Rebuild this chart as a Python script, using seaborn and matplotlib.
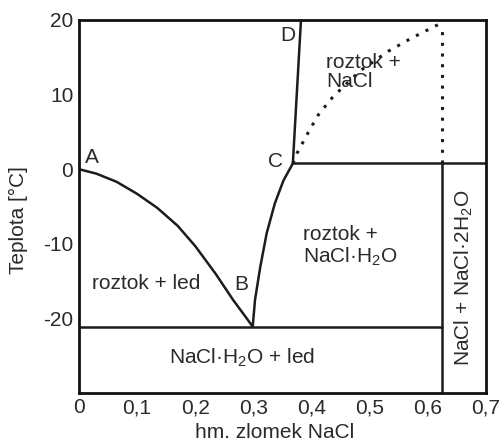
"""Phase diagram NaCl - H2O (Czech labels), redrawn with seaborn."""

import matplotlib

matplotlib.use("Agg")
import matplotlib.pyplot as plt
import pandas as pd
import seaborn as sns

# liquidus of ice, A -> B
AB_X = [0.0, 0.03, 0.065, 0.10, 0.135, 0.17, 0.20, 0.235, 0.265, 0.299]
AB_T = [0.0, -0.6, -1.7, -3.3, -5.2, -7.6, -10.3, -14.0, -17.5, -21.1]
# solubility of NaCl.H2O, B -> C
BC_X = [0.299, 0.303, 0.312, 0.323, 0.337, 0.352, 0.368]
BC_T = [-21.1, -17.5, -13.1, -8.6, -4.6, -1.5, 0.76]
# solubility of NaCl, C -> D
CD_X = [0.368, 0.382]
CD_T = [0.76, 20.0]
# dotted curve from C up to the right
CE_X = [0.368, 0.375, 0.395, 0.412, 0.437, 0.484, 0.532, 0.573, 0.621]
CE_T = [0.76, 2.1, 5.0, 7.3, 9.7, 13.2, 15.8, 17.6, 19.5]

T_EUTECTIC = -21.1
T_PERITECTIC = 0.76
X_DIHYDRATE = 0.624

X_TICKS = [0.0, 0.1, 0.2, 0.3, 0.4, 0.5, 0.6, 0.7]
X_TICKLABELS = ["0", "0,1", "0,2", "0,3", "0,4", "0,5", "0,6", "0,7"]
Y_TICKS = [-20, -10, 0, 10, 20]
Y_TICKLABELS = ["-20", "-10", "0", "10", "20"]

LINE = "#1c1c1c"
TEXT = "#2a2a2a"


def curve(ax, xs, ts, **kw):
    df = pd.DataFrame({"x": xs, "t": ts})
    sns.lineplot(data=df, x="x", y="t", ax=ax, sort=False, estimator=None,
                 color=LINE, **kw)


def main() -> None:
    sns.set_theme(style="white")
    plt.rcParams["font.family"] = ["Liberation Sans", "DejaVu Sans"]
    plt.rcParams["mathtext.fontset"] = "custom"
    plt.rcParams["mathtext.rm"] = "Liberation Sans"

    fig = plt.figure(figsize=(5.02, 4.43), dpi=100)
    ax = fig.add_axes([0.157, 0.113, 0.811, 0.842])

    curve(ax, AB_X, AB_T, lw=1.8)
    curve(ax, BC_X, BC_T, lw=1.8)
    curve(ax, CD_X, CD_T, lw=1.8)
    curve(ax, CE_X, CE_T, lw=2.2, linestyle=(0, (1, 2.5)))
    curve(ax, [0.0, X_DIHYDRATE], [T_EUTECTIC, T_EUTECTIC], lw=1.8)
    curve(ax, [CD_X[0], 0.7], [T_PERITECTIC, T_PERITECTIC], lw=1.8)
    curve(ax, [X_DIHYDRATE, X_DIHYDRATE], [-30, T_PERITECTIC], lw=1.8)
    curve(ax, [X_DIHYDRATE, X_DIHYDRATE], [T_PERITECTIC, CE_T[-1]],
          lw=2.2, linestyle=(0, (1, 2.5)))

    ax.set_xlim(0, 0.7)
    ax.set_ylim(-30, 20)
    ax.set_xticks(X_TICKS, X_TICKLABELS)
    ax.set_yticks(Y_TICKS, Y_TICKLABELS)
    ax.tick_params(direction="in", length=6, width=1, color="#c8c8c8",
                   labelsize=15, labelcolor=TEXT, pad=4)
    for sp in ax.spines.values():
        sp.set_color("#111111")
        sp.set_linewidth(2)

    ax.set_xlabel("hm. zlomek NaCl", fontsize=15, color=TEXT)
    ax.set_ylabel("Teplota [°C]", fontsize=15, color=TEXT)
    ax.xaxis.set_label_coords(0.48, -0.08)
    ax.yaxis.set_label_coords(-0.125, 0.464)

    fs = 15
    ax.text(0.022, 1.6, "A", fontsize=fs, color=TEXT, ha="center", va="center")
    ax.text(0.28, -15.5, "B", fontsize=fs, color=TEXT, ha="center", va="center")
    ax.text(0.339, 1.0, "C", fontsize=fs, color=TEXT, ha="center", va="center")
    ax.text(0.36, 17.9, "D", fontsize=fs, color=TEXT, ha="center", va="center")
    ax.text(0.115, -15.3, "roztok + led", fontsize=fs, color=TEXT,
            ha="center", va="center")
    ax.text(0.425, 13.0, "roztok +\nNaCl", fontsize=fs, color=TEXT,
            ha="left", va="center", linespacing=1.0)
    ax.text(0.386, -10.4, "roztok +\nNaCl·H$_2$O", fontsize=fs, color=TEXT,
            ha="left", va="center", linespacing=1.1)
    ax.text(0.28, -25.3, "NaCl·H$_2$O + led", fontsize=fs, color=TEXT,
            ha="center", va="center")
    ax.text(0.661, -14.6, "NaCl + NaCl·2H$_2$O", fontsize=fs, color=TEXT,
            ha="center", va="center", rotation=90)

    fig.savefig("out.png", dpi=100)
    plt.close(fig)


if __name__ == "__main__":
    main()
